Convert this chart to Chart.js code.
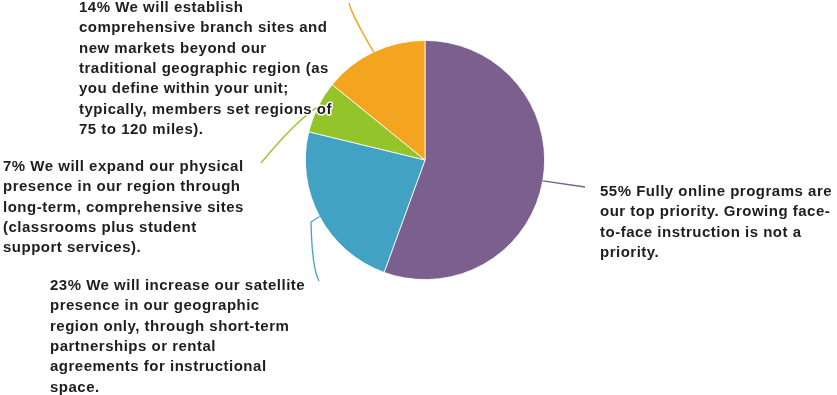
<!DOCTYPE html>
<html><head><meta charset="utf-8">
<script src="https://cdn.jsdelivr.net/npm/chart.js@4/dist/chart.umd.min.js"></script>
<style>html,body{margin:0;padding:0;background:#fff;overflow:hidden}canvas{display:block}</style>
</head><body>
<canvas id="c" width="837" height="395"></canvas>
<script>
// ---- data ----
const categories = [
  "Fully online programs",
  "Satellite presence",
  "Expand physical presence",
  "Branch sites and new markets"
];
const values = [55, 23, 7, 14];
const labelLines = [
  ["55% Fully online programs are", "our top priority. Growing face-", "to-face instruction is not a", "priority."],
  ["23% We will increase our satellite", "presence in our geographic", "region only, through short-term", "partnerships or rental", "agreements for instructional", "space."],
  ["7% We will expand our physical", "presence in our region through", "long-term, comprehensive sites", "(classrooms plus student", "support services)."],
  ["14% We will establish", "comprehensive branch sites and", "new markets beyond our", "traditional geographic region (as", "you define within your unit;", "typically, members set regions of", "75 to 120 miles)."]
];

// ---- styles / layout ----
const colors = ['#7b5f8e', '#42a2c4', '#93c52a', '#f4a51f'];
const FONT = '700 15px "Liberation Sans", Arial, sans-serif';
const LETTER_SPACING = '0.5px';
const LINE_H = 20.3;
const labelPos = [
  {x: 600, y: 192},
  {x: 50, y: 286},
  {x: 3, y: 167},
  {x: 79, y: 8}
];
// leader paths: after start point on arc edge
const leaders = [
  [{t:'L', p:[585,187]}],
  [{t:'L', p:[311,222]}, {t:'Q', p:[312,268, 319,281]}],
  [{t:'C', p:[300,118, 280,140, 261,163]}],
  [{t:'C', p:[362,32, 352,15, 349,3]}]
];

const labelPlugin = {
  id: 'labels',
  afterDatasetsDraw(chart) {
    const ctx = chart.ctx;
    const meta = chart.getDatasetMeta(0);
    ctx.save();
    meta.data.forEach((arc, i) => {
      const {x, y, startAngle, endAngle, outerRadius} = arc.getProps(['x','y','startAngle','endAngle','outerRadius'], true);
      const mid = (startAngle + endAngle) / 2;
      const sx = x + Math.cos(mid) * outerRadius;
      const sy = y + Math.sin(mid) * outerRadius;
      ctx.beginPath();
      ctx.moveTo(sx, sy);
      leaders[i].forEach(seg => {
        const p = seg.p;
        if (seg.t === 'L') ctx.lineTo(p[0], p[1]);
        else if (seg.t === 'Q') ctx.quadraticCurveTo(p[0], p[1], p[2], p[3]);
        else ctx.bezierCurveTo(p[0], p[1], p[2], p[3], p[4], p[5]);
      });
      ctx.strokeStyle = colors[i];
      ctx.lineWidth = 1.3;
      ctx.stroke();
    });
    ctx.font = FONT;
    if ('letterSpacing' in ctx) ctx.letterSpacing = LETTER_SPACING;
    ctx.textBaseline = 'middle';
    ctx.textAlign = 'left';
    ctx.lineJoin = 'round';
    labelLines.forEach((lines, i) => {
      lines.forEach((s, k) => {
        const ly = labelPos[i].y + k * LINE_H;
        ctx.strokeStyle = '#ffffff';
        ctx.lineWidth = 3;
        ctx.strokeText(s, labelPos[i].x, ly);
        ctx.fillStyle = '#1e1e1e';
        ctx.fillText(s, labelPos[i].x, ly);
      });
    });
    ctx.restore();
  }
};

new Chart(document.getElementById('c'), {
  type: 'pie',
  data: {
    labels: categories,
    datasets: [{
      data: values,
      backgroundColor: colors,
      borderColor: '#ffffff',
      borderWidth: 0.8
    }]
  },
  options: {
    responsive: false,
    animation: false,
    layout: {padding: {left: 305, right: 292, top: 40, bottom: 115}},
    plugins: {legend: {display: false}, tooltip: {enabled: false}}
  },
  plugins: [labelPlugin]
});
</script>
</body></html>
